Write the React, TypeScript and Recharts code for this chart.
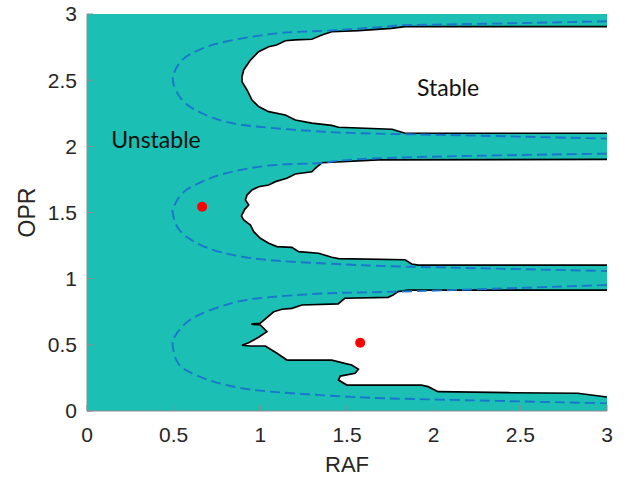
import React from 'react';
import { ComposedChart, Scatter, XAxis, YAxis, ReferenceArea, ReferenceDot } from 'recharts';

type Pt = { x: number; y: number };
const pts = (a: number[][]): Pt[] => a.map(([x, y]) => ({ x, y }));

const axisTicks = [0, 0.5, 1, 1.5, 2, 2.5, 3];

// stable region outlines (RAF, OPR), right edge -> left tip -> right edge
const stableTop = pts([
  [3, 2.904], [1.912, 2.904], [1.835, 2.904], [1.756, 2.892], [1.566, 2.874], [1.412, 2.866],
  [1.355, 2.841], [1.297, 2.809], [1.202, 2.804], [1.144, 2.798], [1.094, 2.766], [1.048, 2.753],
  [0.99, 2.715], [0.943, 2.652], [0.904, 2.577], [0.894, 2.526], [0.894, 2.489], [0.923, 2.426],
  [0.952, 2.35], [0.99, 2.3], [1.048, 2.262], [1.144, 2.237], [1.202, 2.199], [1.297, 2.176],
  [1.412, 2.158], [1.451, 2.144], [1.76, 2.129], [1.835, 2.099], [3, 2.099],
]);

const stableMid = pts([
  [3, 1.902], [1.681, 1.897], [1.355, 1.876], [1.317, 1.834], [1.297, 1.808], [1.202, 1.791],
  [1.153, 1.759], [1.087, 1.733], [1.048, 1.708], [0.99, 1.695], [0.952, 1.67], [0.923, 1.632],
  [0.914, 1.595], [0.933, 1.557], [0.91, 1.524], [0.891, 1.474], [0.904, 1.443], [0.943, 1.406],
  [0.962, 1.355], [1.0, 1.305], [1.048, 1.267], [1.096, 1.242], [1.182, 1.237], [1.221, 1.204],
  [1.336, 1.192], [1.412, 1.162], [1.451, 1.151], [1.835, 1.143], [1.873, 1.111], [1.912, 1.103],
  [3, 1.103],
]);

const stableLow = pts([
  [3, 0.914], [1.852, 0.914], [1.795, 0.902], [1.766, 0.877], [1.737, 0.859], [1.487, 0.852],
  [1.449, 0.809], [1.24, 0.801], [1.182, 0.776], [1.125, 0.769], [1.077, 0.75], [1.0, 0.663],
  [0.948, 0.657], [1.0, 0.65], [1.038, 0.599], [0.99, 0.557], [0.933, 0.516], [0.894, 0.497],
  [0.943, 0.491], [1.029, 0.491], [1.096, 0.436], [1.153, 0.385], [1.412, 0.385], [1.487, 0.36],
  [1.527, 0.348], [1.566, 0.315], [1.547, 0.285], [1.461, 0.264], [1.451, 0.234], [1.499, 0.196],
  [1.929, 0.196], [1.968, 0.184], [2.025, 0.146], [2.448, 0.138], [2.831, 0.134], [3, 0.106],
]);

// dashed analytic boundaries
const dashTop = pts([
  [3, 2.945], [2.447, 2.93], [1.871, 2.917], [1.76, 2.909], [1.375, 2.874], [1.094, 2.854],
  [0.799, 2.791], [0.645, 2.728], [0.549, 2.652], [0.501, 2.552], [0.495, 2.501], [0.511, 2.426],
  [0.568, 2.325], [0.664, 2.25], [0.799, 2.186], [0.99, 2.148], [1.278, 2.118], [1.566, 2.099],
  [2.061, 2.086], [3, 2.058],
]);

const dashMid = pts([
  [3, 1.945], [1.681, 1.91], [1.355, 1.874], [1.087, 1.859], [0.799, 1.796], [0.645, 1.721],
  [0.549, 1.645], [0.501, 1.544], [0.495, 1.494], [0.52, 1.393], [0.587, 1.305], [0.702, 1.229],
  [0.894, 1.166], [1.182, 1.128], [1.566, 1.103], [1.871, 1.09], [3, 1.058],
]);

const dashLow = pts([
  [3, 0.952], [1.796, 0.902], [1.375, 0.889], [0.99, 0.852], [0.799, 0.801], [0.645, 0.726],
  [0.549, 0.637], [0.501, 0.549], [0.495, 0.486], [0.52, 0.373], [0.587, 0.297], [0.702, 0.234],
  [0.894, 0.172], [1.182, 0.134], [1.566, 0.104], [1.969, 0.088], [3, 0.058],
]);

const testPoints = pts([[0.664, 1.544], [1.576, 0.516]]);

const regionLabels = [
  { text: 'Unstable', x: 0.398, y: 2.052 },
  { text: 'Stable', x: 2.083, y: 2.445 },
];

const TEAL = '#1bbfb3';
const AXIS = '#8c8c8c';
const FONT = 'Liberation Sans, Arial, sans-serif';
const tickStyle = { fontSize: 21, fontFamily: FONT, fill: '#262626' };

const Empty = () => <g />;
const RedDot = (p: any) => <circle cx={p.cx} cy={p.cy} r={5} fill="#ff0000" />;

const bandLine = { fill: '#ffffff', stroke: '#000000', strokeWidth: 1.7 };
const dashLine = { fill: 'none', stroke: '#1a76cc', strokeWidth: 1.9, strokeDasharray: '10 5' };

export default function App() {
  return (
    <div style={{ position: 'absolute', left: 0, top: 0, width: 633, height: 478, background: '#fff' }}>
      <ComposedChart width={633} height={478} margin={{ top: 14, right: 26, bottom: 0, left: 0 }}>
        <XAxis
          type="number"
          dataKey="x"
          domain={[0, 3]}
          ticks={axisTicks}
          height={67}
          tickSize={-6}
          tickMargin={22}
          tick={tickStyle}
          stroke={AXIS}
          label={{ value: 'RAF', position: 'insideBottom', offset: 6, fontSize: 22, fontFamily: FONT, fill: '#262626' }}
        />
        <XAxis xAxisId="top" orientation="top" type="number" domain={[0, 3]} ticks={axisTicks} height={0} tickSize={-6} tick={false} stroke={AXIS} />
        <YAxis
          type="number"
          dataKey="y"
          domain={[0, 3]}
          ticks={axisTicks}
          width={87}
          tickSize={-6}
          tickMargin={16}
          tick={tickStyle}
          stroke={AXIS}
          label={{ value: 'OPR', angle: -90, position: 'insideLeft', offset: 27, style: { textAnchor: 'middle' }, fontSize: 23, fontFamily: FONT, fill: '#262626' }}
        />
        <YAxis yAxisId="right" orientation="right" type="number" domain={[0, 3]} ticks={axisTicks} width={0} tickSize={-6} tick={false} stroke={AXIS} />

        <ReferenceArea x1={0} x2={3} y1={0} y2={3} fill={TEAL} fillOpacity={1} stroke="none" />

        <Scatter data={stableTop} line={bandLine} lineType="joint" shape={Empty} isAnimationActive={false} />
        <Scatter data={stableMid} line={bandLine} lineType="joint" shape={Empty} isAnimationActive={false} />
        <Scatter data={stableLow} line={bandLine} lineType="joint" shape={Empty} isAnimationActive={false} />

        <Scatter data={dashTop} line={dashLine} lineType="joint" lineJointType="natural" shape={Empty} isAnimationActive={false} />
        <Scatter data={dashMid} line={dashLine} lineType="joint" lineJointType="natural" shape={Empty} isAnimationActive={false} />
        <Scatter data={dashLow} line={dashLine} lineType="joint" lineJointType="natural" shape={Empty} isAnimationActive={false} />

        <Scatter data={testPoints} fill="#ff0000" shape={RedDot} isAnimationActive={false} />

        {regionLabels.map((l) => (
          <ReferenceDot
            key={l.text}
            x={l.x}
            y={l.y}
            r={0}
            stroke="none"
            label={{ value: l.text, position: 'center', fontSize: 23, fontFamily: 'Lato', fill: '#111' }}
          />
        ))}
      </ComposedChart>
    </div>
  );
}
